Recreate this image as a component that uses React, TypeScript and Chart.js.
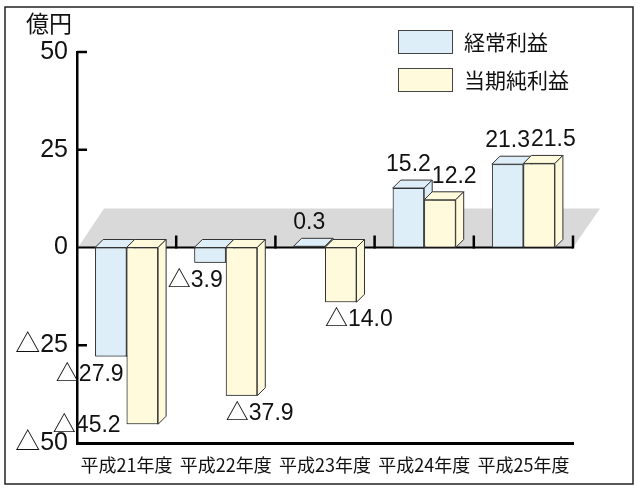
import React, { useEffect, useRef } from 'react';
import { Chart, registerables } from 'chart.js';

Chart.register(...registerables);

// ---- data ----
const categories = ['平成21年度', '平成22年度', '平成23年度', '平成24年度', '平成25年度'];
const ordinaryProfit = [-27.9, -3.9, 0.3, 15.2, 21.3];
const netProfit = [-45.2, -37.9, -14.0, 12.2, 21.5];
const seriesNames = ['経常利益', '当期純利益'];
const yMin = -50;
const yMax = 50;
const yStep = 25;
const unitLabel = '億円';

// ---- styles ----
const BLUE = '#ddeef9';
const YELLOW = '#fffadb';
const EDGE = '#333333';
const DEPTH_X = 8;
const DEPTH_Y = -8;
const FLOOR_X = 27;
const FLOOR_Y = -39;
const LATIN = "'Liberation Sans', 'Noto Sans CJK JP', sans-serif";
const CJK = "'Noto Sans CJK JP', 'Liberation Sans', sans-serif";
const NUM_FONT = `23px ${LATIN}`;

function fmtValue(v: number): string {
  return v < 0 ? '△' + Math.abs(v).toFixed(1) : v.toFixed(1);
}

function line(ctx: CanvasRenderingContext2D, x1: number, y1: number, x2: number, y2: number) {
  ctx.beginPath();
  ctx.moveTo(x1, y1);
  ctx.lineTo(x2, y2);
  ctx.stroke();
}

function poly(ctx: CanvasRenderingContext2D, pts: number[][]) {
  ctx.beginPath();
  ctx.moveTo(pts[0][0], pts[0][1]);
  for (let i = 1; i < pts.length; i++) ctx.lineTo(pts[i][0], pts[i][1]);
  ctx.closePath();
  ctx.fill();
  ctx.stroke();
}

const bars3d = {
  id: 'bars3d',
  beforeDraw(chart: any) {
    const ctx = chart.ctx;
    ctx.save();
    ctx.fillStyle = '#ffffff';
    ctx.fillRect(0, 0, chart.width, chart.height);
    ctx.restore();
  },
  beforeDatasetsDraw(chart: any) {
    const { ctx, chartArea: a, scales } = chart;
    const ys = scales.y;
    const y0 = ys.getPixelForValue(0);
    ctx.save();
    // floor
    ctx.fillStyle = '#d9d9d9';
    ctx.beginPath();
    ctx.moveTo(a.left + 1, y0);
    ctx.lineTo(a.left + FLOOR_X, y0 + FLOOR_Y);
    ctx.lineTo(a.right + FLOOR_X, y0 + FLOOR_Y);
    ctx.lineTo(a.right, y0);
    ctx.closePath();
    ctx.fill();
    // zero line
    ctx.strokeStyle = '#000';
    ctx.lineWidth = 2;
    line(ctx, a.left, y0, a.right, y0);
    // category boundary ticks
    const n = categories.length;
    const cw = (a.right - a.left) / n;
    ctx.lineWidth = 2.5;
    for (let i = 1; i <= n; i++) {
      const bx = a.left + cw * i;
      line(ctx, bx, y0 + 1, bx, y0 - 12);
    }
    // inward y ticks
    ys.ticks.forEach((t: any) => {
      if (t.value === 0 || t.value === ys.min) return;
      const py = ys.getPixelForValue(t.value);
      line(ctx, a.left, py, a.left + 10, py);
    });
    ctx.restore();
  },
  afterDatasetsDraw(chart: any) {
    const { ctx, chartArea: a } = chart;
    const metas = [chart.getDatasetMeta(0), chart.getDatasetMeta(1)];
    // redraw bars left series first, each with its 3D faces
    metas.forEach((meta: any, d: number) => {
      const ds = chart.data.datasets[d];
      meta.data.forEach((el: any) => el.draw(ctx));
      ctx.save();
      ctx.fillStyle = ds.backgroundColor;
      ctx.strokeStyle = EDGE;
      ctx.lineWidth = 1;
      meta.data.forEach((el: any) => {
        const p = el.getProps(['x', 'y', 'base', 'width'], true);
        const l = p.x - p.width / 2;
        const r = p.x + p.width / 2;
        const top = Math.min(p.y, p.base);
        const bot = Math.max(p.y, p.base);
        poly(ctx, [[l, top], [l + DEPTH_X, top + DEPTH_Y], [r + DEPTH_X, top + DEPTH_Y], [r, top]]);
        poly(ctx, [[r, top], [r + DEPTH_X, top + DEPTH_Y], [r + DEPTH_X, bot + DEPTH_Y], [r, bot]]);
      });
      ctx.restore();
    });

    // value labels
    ctx.save();
    ctx.font = NUM_FONT;
    ctx.fillStyle = '#111';
    ctx.textAlign = 'left';
    ctx.textBaseline = 'alphabetic';
    categories.forEach((_, i) => {
      let prev: any = null;
      metas.forEach((meta: any, d: number) => {
        const v = chart.data.datasets[d].data[i];
        const p = meta.data[i].getProps(['x', 'y', 'base', 'width'], true);
        const l = p.x - p.width / 2;
        const r = p.x + p.width / 2;
        const text = fmtValue(v);
        const w = ctx.measureText(text).width;
        let tx: number;
        let ty: number;
        if (v >= 0) {
          tx = p.x - w / 2;
          ty = p.y - 17;
          if (prev && prev.pos && tx < prev.right && Math.abs(ty - prev.ty) < 20) tx = prev.right + 1;
        } else if (d === 0) {
          tx = r - 3 - w;
          ty = p.y + 24;
        } else if (p.y + 24 > a.bottom - 4) {
          tx = l - 6 - w;
          ty = Math.min(p.y + 8, a.bottom - 10);
        } else {
          tx = l;
          ty = p.y + 24;
        }
        ctx.fillText(text, tx, ty);
        prev = { pos: v >= 0, right: tx + w, ty };
      });
    });
    ctx.restore();
  },
  afterDraw(chart: any) {
    const ctx = chart.ctx;
    ctx.save();
    // unit label
    ctx.font = `23px ${CJK}`;
    ctx.fillStyle = '#111';
    ctx.textAlign = 'center';
    ctx.textBaseline = 'middle';
    ctx.fillText(unitLabel, 49, 23);
    // legend
    chart.data.datasets.forEach((ds: any, i: number) => {
      const bx = 398;
      const by = 30 + i * 38;
      ctx.fillStyle = ds.backgroundColor;
      ctx.strokeStyle = '#444';
      ctx.lineWidth = 1;
      ctx.fillRect(bx, by, 54, 23);
      ctx.strokeRect(bx + 0.5, by + 0.5, 54, 23);
      ctx.fillStyle = '#111';
      ctx.font = `21px ${CJK}`;
      ctx.textAlign = 'left';
      ctx.textBaseline = 'middle';
      ctx.fillText(ds.label, 464, by + 12);
    });
    // outer frame
    ctx.strokeStyle = '#222';
    ctx.lineWidth = 1.5;
    ctx.strokeRect(5, 7, 628, 477);
    ctx.restore();
  },
};

export default function App() {
  const ref = useRef<HTMLCanvasElement>(null);
  useEffect(() => {
    if (!ref.current) return;
    const chart = new Chart(ref.current, {
      type: 'bar',
      data: {
        labels: categories,
        datasets: [
          {
            label: seriesNames[0],
            data: ordinaryProfit,
            backgroundColor: BLUE,
            borderColor: EDGE,
            borderWidth: 1,
            borderSkipped: false,
            categoryPercentage: 0.635,
            barPercentage: 1.0,
          },
          {
            label: seriesNames[1],
            data: netProfit,
            backgroundColor: YELLOW,
            borderColor: EDGE,
            borderWidth: 1,
            borderSkipped: false,
            categoryPercentage: 0.635,
            barPercentage: 1.0,
          },
        ],
      },
      options: {
        animation: false,
        responsive: false,
        devicePixelRatio: 1,
        layout: { padding: { left: 0, top: 52, right: 65, bottom: 0 } },
        plugins: {
          legend: { display: false },
          tooltip: { enabled: false },
        },
        scales: {
          x: {
            grid: { display: false, drawTicks: false },
            border: { display: true, color: '#000', width: 3 },
            ticks: {
              color: '#111',
              font: { family: CJK, size: 18 },
              padding: 11,
              maxRotation: 0,
              autoSkip: false,
            },
            afterFit: (s: any) => {
              s.height = 45;
            },
          },
          y: {
            min: yMin,
            max: yMax,
            grid: { display: false, drawTicks: false },
            border: { display: true, color: '#000', width: 2.5 },
            ticks: {
              stepSize: yStep,
              color: '#111',
              font: { family: LATIN, size: 25 },
              padding: 9,
              callback: (v: any) => (v < 0 ? '△' + Math.abs(v) : String(v)),
            },
            afterFit: (s: any) => {
              s.width = 77;
            },
          },
        },
      },
      plugins: [bars3d],
    });
    return () => chart.destroy();
  }, []);
  return (
    <div style={{ position: 'absolute', left: 0, top: 0, width: 638, height: 488, background: '#fff' }}>
      <canvas ref={ref} width={638} height={488} style={{ display: 'block' }} />
    </div>
  );
}
